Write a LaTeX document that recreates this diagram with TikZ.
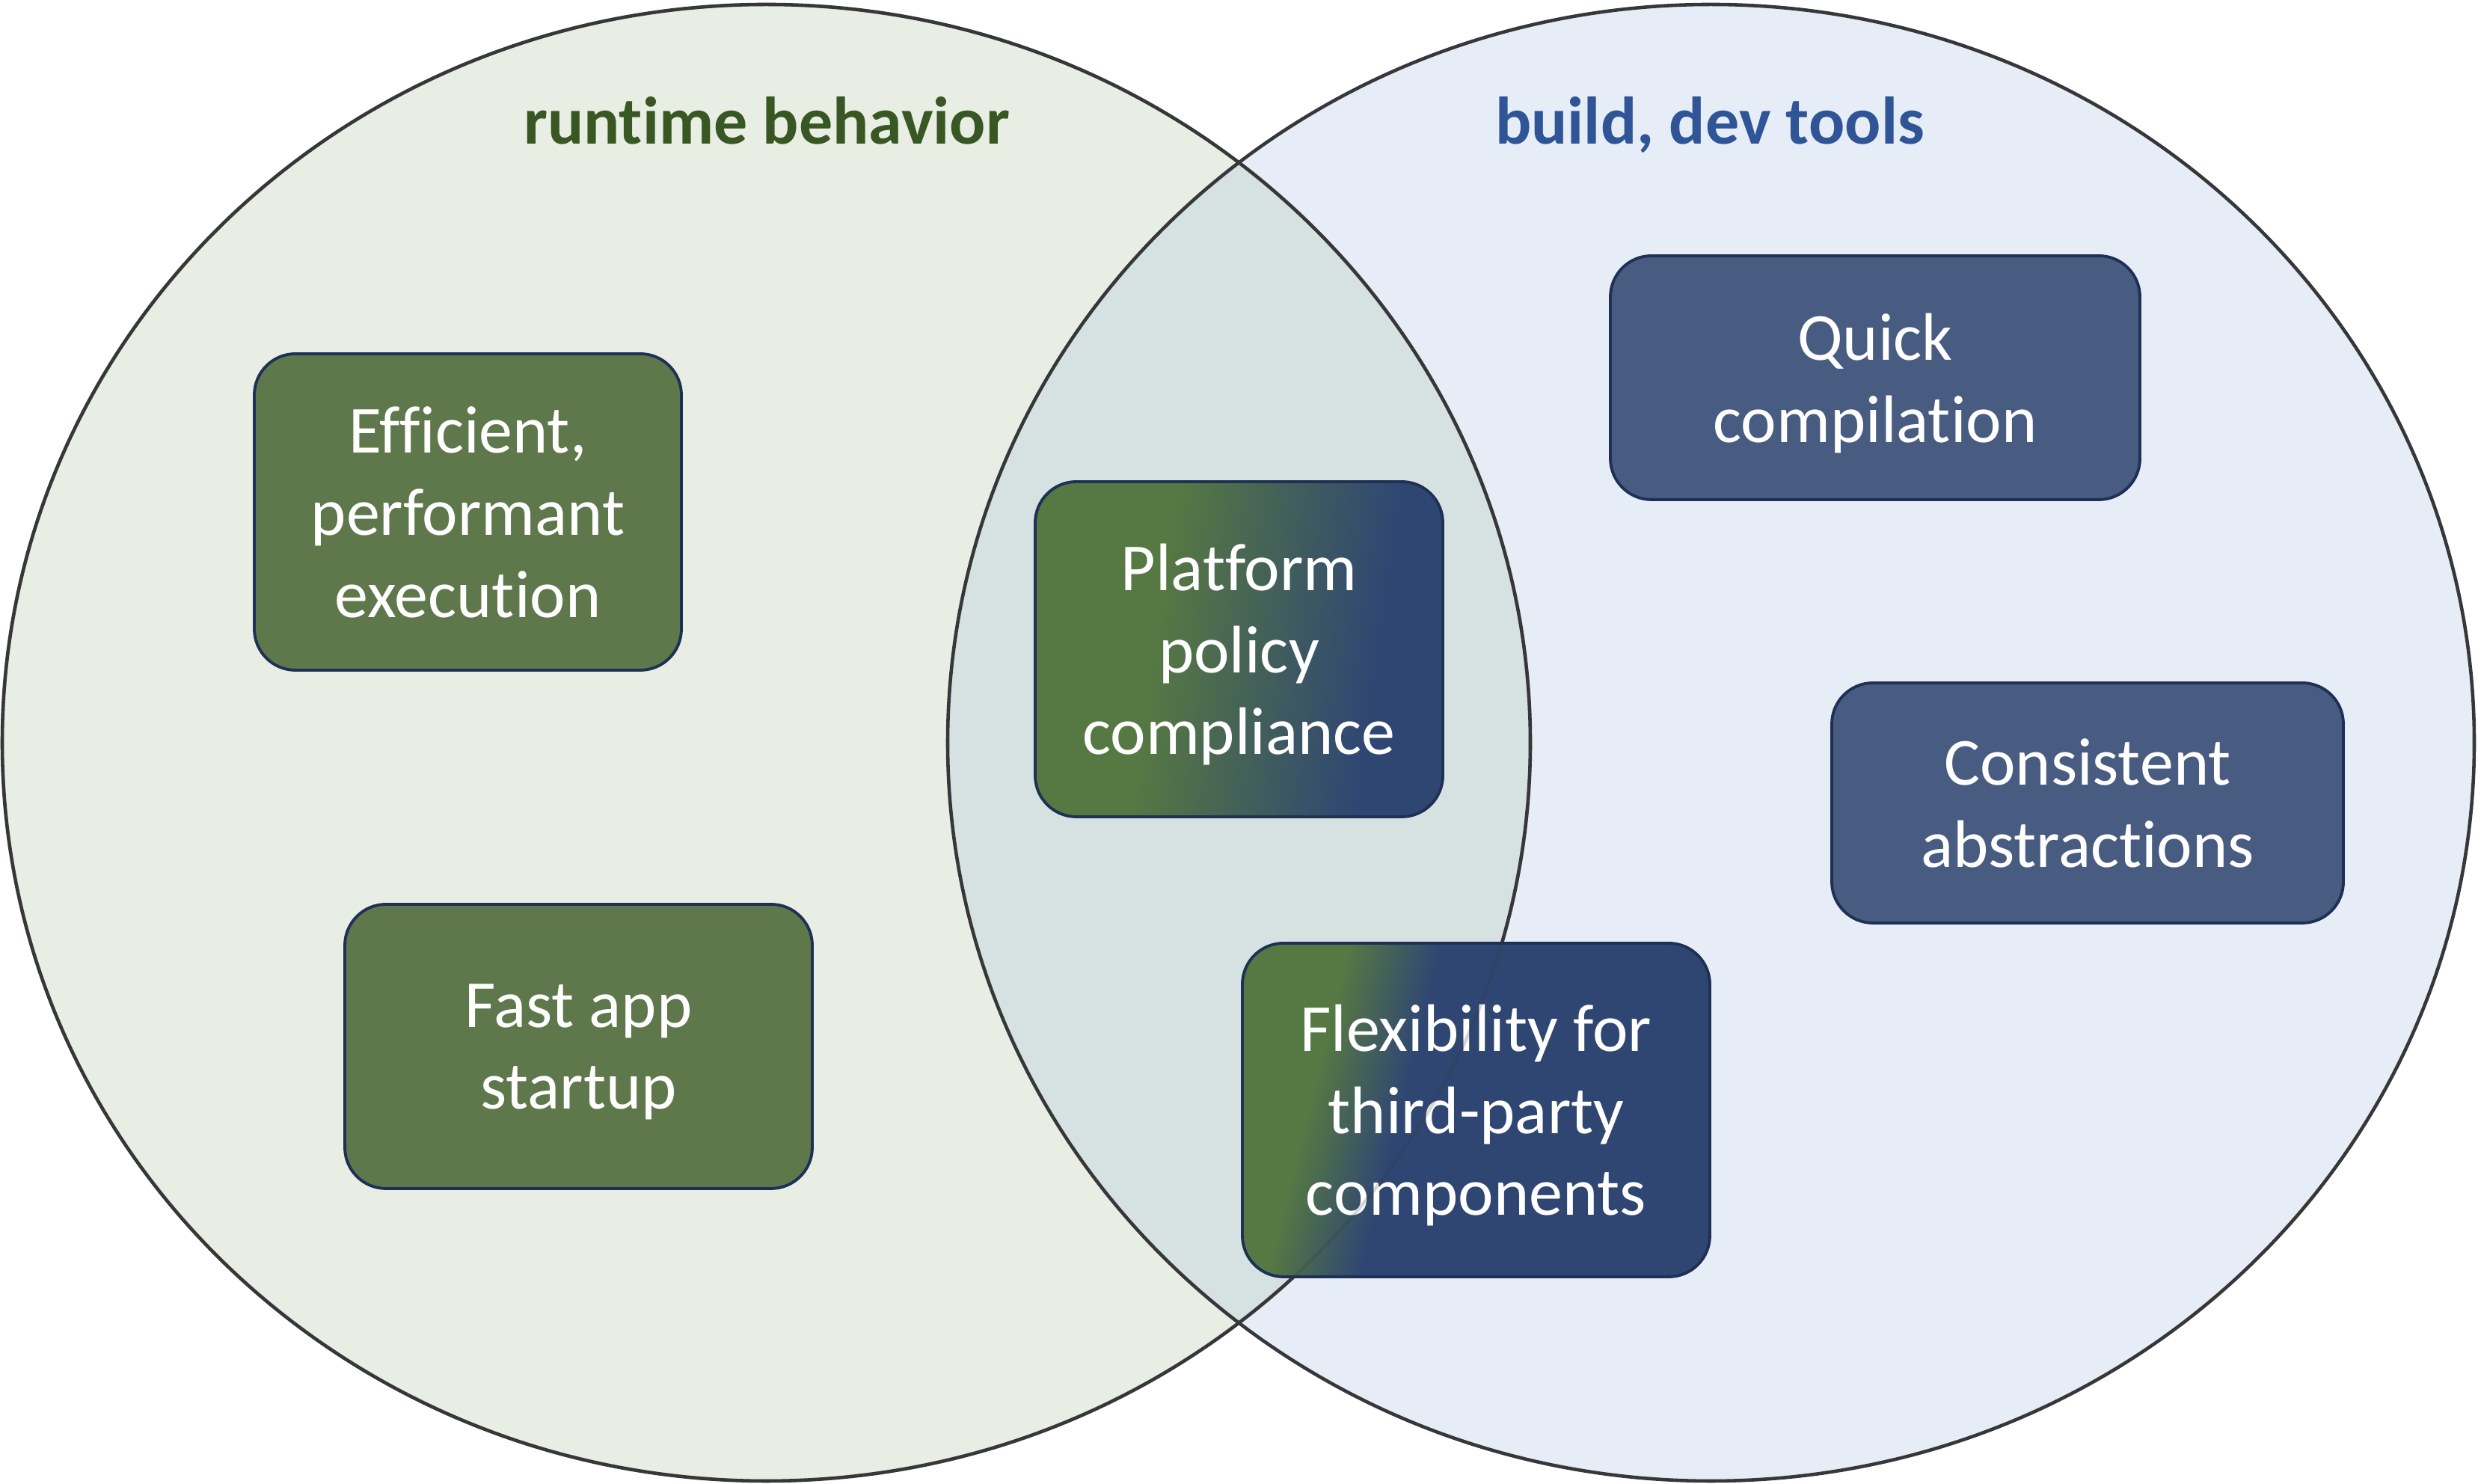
\documentclass[tikz,border=0pt]{standalone}
\usepackage{fontspec}
\setmainfont{Carlito}[Ligatures={NoCommon}]

\definecolor{runfill}{RGB}{232,238,228}
\definecolor{devfill}{RGB}{230,237,247}
\definecolor{bothfill}{RGB}{214,226,226}
\definecolor{rimgray}{RGB}{55,55,58}
\definecolor{rungreen}{RGB}{56,87,35}
\definecolor{devblue}{RGB}{47,85,151}
\definecolor{boxgreen}{RGB}{94,119,75}
\definecolor{boxblue}{RGB}{72,91,128}
\definecolor{boxedge}{RGB}{30,48,84}
\definecolor{mixgreen}{RGB}{86,120,66}
\definecolor{mixblue}{RGB}{47,70,115}

% green-to-blue fill: centre x, centre y, half width, half height, angle, green end, blue start
\newcommand{\twotone}[7]{%
    \begin{scope}
        \clip[rounded corners=0.55cm] ({#1-#3},{#2-#4}) rectangle ({#1+#3},{#2+#4});
        \begin{scope}[transform canvas={rotate around={#5:(#1,#2)}}]
            \fill[mixblue] ({#1-5},{#2-5}) rectangle ({#1+5},{#2+5});
            \fill[mixgreen] ({#1-5},{#2-5}) rectangle ({#1+#6+0.02},{#2+5});
            \shade[left color=mixgreen, right color=mixblue] ({#1+#6},{#2-5}) rectangle ({#1+#7},{#2+5});
        \end{scope}
    \end{scope}}

\begin{document}
\begin{tikzpicture}[
    ring/.style={draw=rimgray, line width=1.3pt},
    title/.style={font=\bfseries\fontsize{25.6}{31.2}\selectfont, anchor=base},
    card/.style={draw=boxedge, line width=1.1pt, rounded corners=0.55cm, text=white,
        align=center, inner sep=0pt, text depth=0pt, font=\fontsize{25.6}{31.2}\selectfont}
]
        \useasboundingbox (0,0) rectangle (33.13,19.84);

        % Circles
        \fill[runfill] (10.245,9.91) ellipse [x radius=10.215, y radius=9.87];
        \fill[devfill] (22.875,9.91) ellipse [x radius=10.205, y radius=9.87];
        \begin{scope}
            \clip (10.245,9.91) ellipse [x radius=10.215, y radius=9.87];
            \fill[bothfill] (22.875,9.91) ellipse [x radius=10.205, y radius=9.87];
        \end{scope}
        \draw[ring] (10.245,9.91) ellipse [x radius=10.215, y radius=9.87];
        \draw[ring] (22.875,9.91) ellipse [x radius=10.205, y radius=9.87];

        % Titles
        \node(runtitle) [title, text=rungreen] at (10.25,17.91) {runtime behavior};
        \node(devtitle) [title, text=devblue] at (22.86,17.91) {build, dev tools};

        % Shared boxes fill
        \twotone{16.565}{11.16}{2.725}{2.24}{-8}{-1.12}{1.87}
        \twotone{19.735}{5.0}{3.125}{2.23}{-14}{-2.18}{-0.97}

        % Boxes
        \node(efficient) [card, fill=boxgreen, minimum width=5.71cm, minimum height=4.23cm] at (6.255,12.995) {Efficient,\\performant\\execution};
        \node(startup) [card, fill=boxgreen, minimum width=6.25cm, minimum height=3.80cm] at (7.735,5.85) {Fast app\\startup};
        \node(policy) [card, minimum width=5.45cm, minimum height=4.48cm] at (16.565,11.16) {Platform\\policy\\compliance};
        \node(thirdparty) [card, minimum width=6.25cm, minimum height=4.46cm] at (19.735,5.0) {Flexibility for\\third-party\\components};
        \node(compile) [card, fill=boxblue, minimum width=7.08cm, minimum height=3.26cm] at (25.07,14.79) {Quick\\compilation};
        \node(abstract) [card, fill=boxblue, minimum width=6.84cm, minimum height=3.21cm] at (27.91,9.105) {Consistent\\abstractions};

        % Rim seen through the boxes
        \draw[ring, draw opacity=0.2] (10.245,9.91) ellipse [x radius=10.215, y radius=9.87];
\end{tikzpicture}
\end{document}
